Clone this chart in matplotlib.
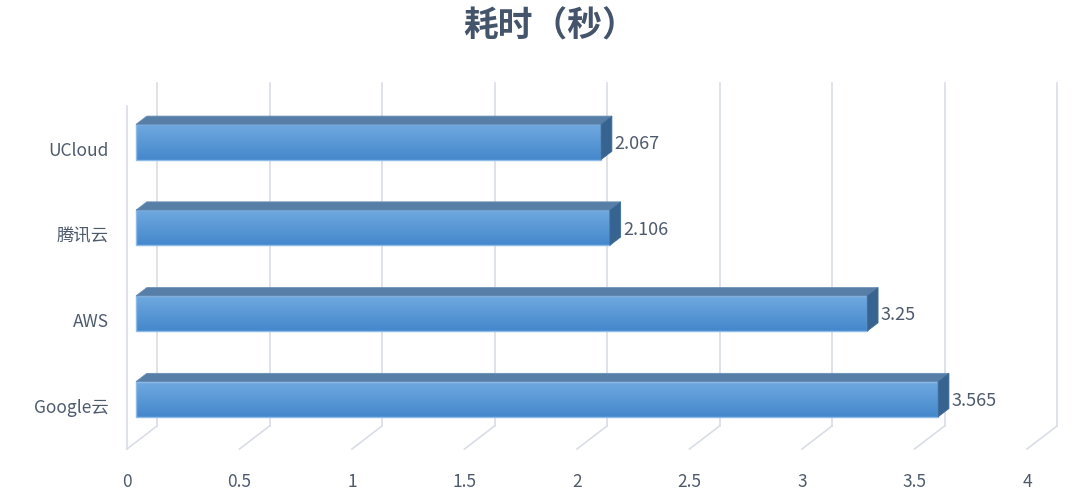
import numpy as np
import matplotlib
matplotlib.use("Agg")
import matplotlib.pyplot as plt
from matplotlib.patches import Polygon
from matplotlib.transforms import Affine2D, IdentityTransform

plt.rcParams['font.family'] = ['Noto Sans CJK SC', 'DejaVu Sans']

# ---- data ----
categories = ['Google云', 'AWS', '腾讯云', 'UCloud']   # bottom -> top
values = [3.565, 3.25, 2.106, 2.067]
value_labels = ['3.565', '3.25', '2.106', '2.067']
x_ticks = [0, 0.5, 1, 1.5, 2, 2.5, 3, 3.5, 4]
x_tick_labels = ['0', '0.5', '1', '1.5', '2', '2.5', '3', '3.5', '4']
title = '耗时（秒）'

TEXT = '#4f5b6d'
GRID = '#d9dde5'
FRONT_TOP = np.array([0x70, 0xa9, 0xe0]) / 255
FRONT_BOT = np.array([0x44, 0x88, 0xcc]) / 255
TOP_FACE = '#567ea7'
SIDE_FACE = '#36638f'
EDGE = '#8dbbe8'

DPI = 100
fig = plt.figure(figsize=(10.8, 5.01), dpi=DPI)
ax = fig.add_axes([127 / 1080, 52 / 501, 900 / 1080, 343 / 501])
ax.set_xlim(0, 4)
ax.set_ylim(-0.5, 3.5)
for s in ax.spines.values():
    s.set_visible(False)

DEPTH = np.array([30.0, 23.0])  # pixel offset of the back wall
BAR_D0, BAR_D1 = 0.30, 0.66     # bar front / back depth fractions
BAR_H = 0.41


def pt(x, y, d):
    p = ax.transData.transform((x, y))
    return p + d * DEPTH


def line3(p0, p1, **kw):
    a = pt(*p0)
    b = pt(*p1)
    ax.add_line(plt.Line2D([a[0], b[0]], [a[1], b[1]], transform=IdentityTransform(),
                           clip_on=False, **kw))


# walls / gridlines
for xt in x_ticks:
    line3((xt, -0.5, 1), (xt, 3.5, 1), color=GRID, lw=1.2, zorder=1)
    line3((xt, -0.5, 0), (xt, -0.5, 1), color=GRID, lw=1.2, zorder=1)
line3((0, -0.5, 0), (0, 3.5, 0), color=GRID, lw=1.2, zorder=1)

# bars
grad = np.linspace(0, 1, 64)[:, None, None]
grad_img = FRONT_TOP[None, None, :] * (1 - grad) + FRONT_BOT[None, None, :] * grad
grad_img = np.repeat(grad_img, 2, axis=1)
front_tr = ax.transData + Affine2D().translate(*(BAR_D0 * DEPTH))

for i, (v, lab) in enumerate(zip(values, value_labels)):
    y0, y1 = i - BAR_H / 2, i + BAR_H / 2
    top = [pt(0, y1, BAR_D0), pt(v, y1, BAR_D0), pt(v, y1, BAR_D1), pt(0, y1, BAR_D1)]
    side = [pt(v, y0, BAR_D0), pt(v, y1, BAR_D0), pt(v, y1, BAR_D1), pt(v, y0, BAR_D1)]
    fig.patches.append(Polygon(top, closed=True, facecolor=TOP_FACE, edgecolor='#6a8fb5',
                               lw=0.6, transform=IdentityTransform(), zorder=3))
    fig.patches.append(Polygon(side, closed=True, facecolor=SIDE_FACE, edgecolor='#3f6c98',
                               lw=0.6, transform=IdentityTransform(), zorder=3))
    ax.imshow(grad_img, extent=(0, v, y0, y1), origin='upper', aspect='auto',
              interpolation='bilinear', transform=front_tr, zorder=4, clip_on=False)
    front = [pt(0, y0, BAR_D0), pt(v, y0, BAR_D0), pt(v, y1, BAR_D0), pt(0, y1, BAR_D0)]
    ax.add_patch(Polygon(front, closed=True, fill=False, edgecolor=EDGE, lw=1.0,
                         transform=IdentityTransform(), zorder=5, clip_on=False))
    lp = pt(v, i, BAR_D0)
    ax.text(lp[0] + 13, lp[1] - 2, lab, transform=IdentityTransform(), ha='left', va='center',
            fontsize=13, color=TEXT, zorder=6)

ax.set_xlim(0, 4)
ax.set_ylim(-0.5, 3.5)
ax.set_xticks(x_ticks)
ax.set_xticklabels(x_tick_labels)
ax.set_yticks(range(len(categories)))
ax.set_yticklabels(categories)
ax.tick_params(axis='both', length=0, labelsize=12.5, labelcolor=TEXT)
ax.tick_params(axis='x', pad=17)
ax.tick_params(axis='y', pad=13)
ax.patch.set_visible(False)

fig.text(550 / 1080, 1 - 26 / 501, title, ha='center', va='center', fontsize=25,
         fontweight='bold', color='#44546a')

fig.savefig('out.png', dpi=DPI, facecolor='white')
